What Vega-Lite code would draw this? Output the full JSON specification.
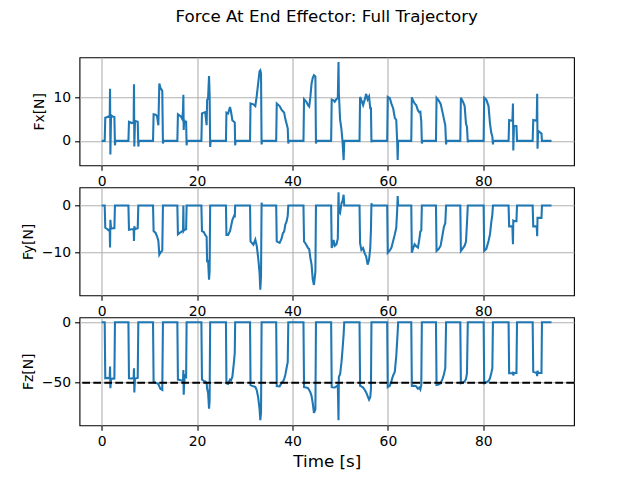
{
  "$schema": "https://vega.github.io/schema/vega-lite/v6.json",
  "autosize": {"type": "none"},
  "padding": {"left": 79.5, "top": 57.3, "right": 63, "bottom": 51.7},
  "background": "white",
  "params": [
    {"name": "width", "value": 494.5},
    {"name": "height", "value": 368}
  ],
  "title": {
    "text": "Force At End Effector: Full Trajectory",
    "font": "DejaVu Sans",
    "fontSize": 16.7,
    "fontWeight": "normal",
    "color": "black",
    "anchor": "middle",
    "frame": "group",
    "baseline": "alphabetic",
    "offset": 18
  },
  "datasets": {
    "force": [
      {"t": 0, "fx": 0, "fy": 0, "fz": 0},
      {"t": 0.63, "fx": 0, "fy": 0, "fz": 0},
      {"t": 0.75, "fx": 5.3, "fy": -4.7, "fz": -46.3},
      {"t": 1.2, "fx": 5.5, "fy": -5.0, "fz": -46.0},
      {"t": 1.4, "fx": 5.6, "fy": -5.2, "fz": -46.2},
      {"t": 1.68, "fx": 5.4, "fy": -5.0, "fz": -46.0},
      {"t": 1.75, "fx": 12.0, "fy": -8.9, "fz": -36.6},
      {"t": 1.82, "fx": -3.1, "fy": -3.0, "fz": -54.5},
      {"t": 1.96, "fx": 5.9, "fy": -4.9, "fz": -46.8},
      {"t": 2.3, "fx": 5.6, "fy": -4.8, "fz": -46.6},
      {"t": 2.66, "fx": 5.5, "fy": -4.8, "fz": -46.5},
      {"t": 2.78, "fx": -1.0, "fy": 0, "fz": 0},
      {"t": 2.88, "fx": 0, "fy": 0, "fz": 0},

      {"t": 5.6, "fx": 0, "fy": 0, "fz": 0},
      {"t": 5.72, "fx": 4.4, "fy": -5.1, "fz": -46.3},
      {"t": 6.3, "fx": 4.1, "fy": -5.0, "fz": -46.5},
      {"t": 6.7, "fx": 4.2, "fy": -5.0, "fz": -46.0},
      {"t": 6.77, "fx": 13.0, "fy": -7.5, "fz": -38.0},
      {"t": 6.84, "fx": -1.3, "fy": -4.4, "fz": -58.0},
      {"t": 6.98, "fx": 4.6, "fy": -5.0, "fz": -46.5},
      {"t": 7.55, "fx": 4.4, "fy": -4.8, "fz": -46.0},
      {"t": 7.68, "fx": -1.3, "fy": 0, "fz": 0},
      {"t": 7.78, "fx": 0, "fy": 0, "fz": 0},

      {"t": 10.76, "fx": 0, "fy": 0, "fz": 0},
      {"t": 10.88, "fx": 6.1, "fy": -5.4, "fz": -49.2},
      {"t": 11.3, "fx": 6.0, "fy": -5.8, "fz": -50.0},
      {"t": 11.6, "fx": 5.7, "fy": -6.5, "fz": -50.5},
      {"t": 11.88, "fx": 3.6, "fy": -7.5, "fz": -51.0},
      {"t": 12.08, "fx": 13.2, "fy": -10.4, "fz": -53.0},
      {"t": 12.3, "fx": 12.2, "fy": -10.0, "fz": -55.0},
      {"t": 12.7, "fx": 11.5, "fy": -9.5, "fz": -56.0},
      {"t": 12.84, "fx": -0.6, "fy": 0, "fz": 0},
      {"t": 12.94, "fx": 0, "fy": 0, "fz": 0},

      {"t": 15.86, "fx": 0, "fy": 0, "fz": 0},
      {"t": 15.98, "fx": 6.1, "fy": -6.1, "fz": -47.4},
      {"t": 16.6, "fx": 5.6, "fy": -5.6, "fz": -48.0},
      {"t": 16.9, "fx": 5.0, "fy": -5.4, "fz": -48.5},
      {"t": 17.05, "fx": 7.0, "fy": -5.3, "fz": -48.0},
      {"t": 17.12, "fx": 10.6, "fy": 0, "fz": -39.4},
      {"t": 17.19, "fx": 2.5, "fy": -5.3, "fz": -60.0},
      {"t": 17.3, "fx": 4.8, "fy": -5.1, "fz": -50.0},
      {"t": 17.45, "fx": 4.4, "fy": -5.1, "fz": -44.0},
      {"t": 17.7, "fx": 4.4, "fy": -5.0, "fz": -45.0},
      {"t": 17.8, "fx": -1.0, "fy": 0, "fz": 0},
      {"t": 17.9, "fx": 0, "fy": 0, "fz": 0},

      {"t": 20.9, "fx": 0, "fy": 0, "fz": 0},
      {"t": 21.02, "fx": 6.3, "fy": -5.4, "fz": -47.4},
      {"t": 21.4, "fx": 6.5, "fy": -5.6, "fz": -48.5},
      {"t": 21.7, "fx": 6.6, "fy": -6.2, "fz": -49.0},
      {"t": 22.0, "fx": 3.6, "fy": -6.6, "fz": -50.0},
      {"t": 22.1, "fx": 9.4, "fy": -12.0, "fz": -55.0},
      {"t": 22.3, "fx": 9.8, "fy": -11.5, "fz": -58.0},
      {"t": 22.5, "fx": 14.9, "fy": -15.7, "fz": -71.5},
      {"t": 22.62, "fx": 11.0, "fy": -14.0, "fz": -65.0},
      {"t": 22.74, "fx": -1.4, "fy": 0, "fz": 0},
      {"t": 22.84, "fx": 0, "fy": 0, "fz": 0},

      {"t": 26.05, "fx": 0, "fy": 0, "fz": 0},
      {"t": 26.15, "fx": 6.5, "fy": -6.2, "fz": -50.4},
      {"t": 26.5, "fx": 6.3, "fy": -6.2, "fz": -51.0},
      {"t": 26.9, "fx": 7.8, "fy": -5.4, "fz": -47.4},
      {"t": 27.1, "fx": 6.8, "fy": -4.5, "fz": -48.0},
      {"t": 27.4, "fx": 4.7, "fy": -3.0, "fz": -45.0},
      {"t": 27.75, "fx": 4.4, "fy": -2.2, "fz": -32.0},
      {"t": 27.9, "fx": 4.2, "fy": -2.5, "fz": -25.0},
      {"t": 27.98, "fx": -1.0, "fy": 0, "fz": 0},
      {"t": 28.08, "fx": 0, "fy": 0, "fz": 0},

      {"t": 31.1, "fx": 0, "fy": 0, "fz": 0},
      {"t": 31.2, "fx": 8.6, "fy": -7.6, "fz": -52.0},
      {"t": 31.8, "fx": 8.4, "fy": -8.3, "fz": -53.0},
      {"t": 32.2, "fx": 8.0, "fy": -7.2, "fz": -53.5},
      {"t": 32.5, "fx": 10.3, "fy": -8.5, "fz": -56.0},
      {"t": 32.8, "fx": 13.2, "fy": -11.0, "fz": -62.0},
      {"t": 33.1, "fx": 16.0, "fy": -14.3, "fz": -72.0},
      {"t": 33.25, "fx": 16.2, "fy": -17.8, "fz": -81.0},
      {"t": 33.4, "fx": 15.5, "fy": -15.0, "fz": -75.0},
      {"t": 33.52, "fx": -0.8, "fy": 0.6, "fz": 0},
      {"t": 33.62, "fx": 0, "fy": 0, "fz": 0},

      {"t": 36.58, "fx": 0, "fy": 0, "fz": 0},
      {"t": 36.7, "fx": 8.6, "fy": -7.6, "fz": -52.7},
      {"t": 37.3, "fx": 8.0, "fy": -7.9, "fz": -53.0},
      {"t": 37.7, "fx": 7.2, "fy": -7.0, "fz": -50.4},
      {"t": 38.0, "fx": 6.8, "fy": -5.8, "fz": -49.0},
      {"t": 38.25, "fx": 6.5, "fy": -5.5, "fz": -47.0},
      {"t": 38.5, "fx": 5.0, "fy": -4.0, "fz": -43.4},
      {"t": 38.75, "fx": 4.0, "fy": -3.4, "fz": -38.0},
      {"t": 39.0, "fx": 2.9, "fy": -2.2, "fz": -33.0},
      {"t": 39.12, "fx": -0.6, "fy": 0, "fz": 0},
      {"t": 39.22, "fx": 0, "fy": 0, "fz": 0},

      {"t": 42.3, "fx": 0, "fy": 0, "fz": 0},
      {"t": 42.42, "fx": 9.6, "fy": -7.6, "fz": -53.7},
      {"t": 42.9, "fx": 9.0, "fy": -8.3, "fz": -54.0},
      {"t": 43.25, "fx": 8.2, "fy": -9.0, "fz": -54.5},
      {"t": 43.5, "fx": 7.9, "fy": -9.2, "fz": -56.0},
      {"t": 43.75, "fx": 10.1, "fy": -11.1, "fz": -58.0},
      {"t": 44.0, "fx": 13.2, "fy": -12.5, "fz": -61.0},
      {"t": 44.25, "fx": 14.5, "fy": -15.7, "fz": -67.0},
      {"t": 44.5, "fx": 15.1, "fy": -16.8, "fz": -75.0},
      {"t": 44.8, "fx": 14.8, "fy": -14.0, "fz": -72.0},
      {"t": 44.92, "fx": -0.6, "fy": 0, "fz": 0},
      {"t": 45.02, "fx": 0, "fy": 0, "fz": 0},

      {"t": 48.1, "fx": 0, "fy": 0, "fz": 0},
      {"t": 48.22, "fx": 9.5, "fy": -9.0, "fz": -53.7},
      {"t": 48.6, "fx": 9.3, "fy": -7.3, "fz": -54.0},
      {"t": 48.85, "fx": 9.0, "fy": -8.5, "fz": -54.0},
      {"t": 49.2, "fx": 9.6, "fy": -8.2, "fz": -53.0},
      {"t": 49.5, "fx": 9.8, "fy": -7.0, "fz": -52.0},
      {"t": 49.65, "fx": 18.1, "fy": 2.8, "fz": -81.0},
      {"t": 49.72, "fx": 10.9, "fy": -1.0, "fz": -45.0},
      {"t": 49.98, "fx": 4.9, "fy": -1.5, "fz": -43.0},
      {"t": 50.27, "fx": 2.6, "fy": 0.5, "fz": -33.0},
      {"t": 50.5, "fx": -0.3, "fy": 1.0, "fz": -22.0},
      {"t": 50.72, "fx": -4.4, "fy": 2.3, "fz": -10.0},
      {"t": 50.85, "fx": 0, "fy": 0, "fz": 0},

      {"t": 54.05, "fx": 0, "fy": 0, "fz": 0},
      {"t": 54.17, "fx": 10.1, "fy": -8.0, "fz": -52.6},
      {"t": 54.45, "fx": 9.3, "fy": -9.4, "fz": -53.0},
      {"t": 54.8, "fx": 8.2, "fy": -9.0, "fz": -54.0},
      {"t": 55.1, "fx": 9.3, "fy": -10.0, "fz": -55.6},
      {"t": 55.45, "fx": 10.8, "fy": -10.8, "fz": -58.0},
      {"t": 55.75, "fx": 9.5, "fy": -12.5, "fz": -61.0},
      {"t": 56.05, "fx": 10.2, "fy": -11.5, "fz": -64.0},
      {"t": 56.3, "fx": 7.5, "fy": -9.0, "fz": -62.0},
      {"t": 56.45, "fx": 7.5, "fy": -5.0, "fz": -55.0},
      {"t": 56.55, "fx": -0.3, "fy": 0.5, "fz": 0},
      {"t": 56.65, "fx": 0, "fy": 0, "fz": 0},

      {"t": 59.85, "fx": 0, "fy": 0, "fz": 0},
      {"t": 59.97, "fx": 10.1, "fy": -10.0, "fz": -53.7},
      {"t": 60.4, "fx": 9.8, "fy": -9.5, "fz": -52.6},
      {"t": 60.75, "fx": 8.5, "fy": -8.9, "fz": -48.5},
      {"t": 61.1, "fx": 7.5, "fy": -7.5, "fz": -44.0},
      {"t": 61.45, "fx": 5.3, "fy": -6.1, "fz": -41.0},
      {"t": 61.75, "fx": 4.8, "fy": -4.7, "fz": -28.0},
      {"t": 61.95, "fx": -0.3, "fy": -1.0, "fz": -15.0},
      {"t": 62.05, "fx": -4.4, "fy": 2.0, "fz": -8.0},
      {"t": 62.15, "fx": 0, "fy": 0, "fz": 0},

      {"t": 64.9, "fx": 0, "fy": 0, "fz": 0},
      {"t": 65.02, "fx": 10.0, "fy": -10.0, "fz": -52.6},
      {"t": 65.3, "fx": 9.2, "fy": -9.0, "fz": -52.6},
      {"t": 65.6, "fx": 8.6, "fy": -8.2, "fz": -52.6},
      {"t": 65.95, "fx": 8.2, "fy": -8.6, "fz": -53.0},
      {"t": 66.3, "fx": 7.0, "fy": -8.9, "fz": -55.0},
      {"t": 66.58, "fx": 6.6, "fy": -7.2, "fz": -54.0},
      {"t": 66.8, "fx": 6.7, "fy": -5.5, "fz": -55.6},
      {"t": 67.0, "fx": 4.4, "fy": -5.3, "fz": -52.0},
      {"t": 67.12, "fx": -0.6, "fy": 0, "fz": 0},
      {"t": 67.22, "fx": 0, "fy": 0, "fz": 0},

      {"t": 70.08, "fx": 0, "fy": 0, "fz": 0},
      {"t": 70.2, "fx": 9.9, "fy": -9.6, "fz": -51.8},
      {"t": 70.64, "fx": 9.3, "fy": -9.2, "fz": -51.5},
      {"t": 71.06, "fx": 8.5, "fy": -8.5, "fz": -50.4},
      {"t": 71.47, "fx": 6.5, "fy": -6.1, "fz": -46.6},
      {"t": 71.75, "fx": 5.0, "fy": -4.5, "fz": -43.0},
      {"t": 72.03, "fx": 3.6, "fy": -3.7, "fz": -38.0},
      {"t": 72.2, "fx": -0.8, "fy": 0, "fz": 0},
      {"t": 72.3, "fx": 0, "fy": 0, "fz": 0},

      {"t": 75.18, "fx": 0, "fy": 0, "fz": 0},
      {"t": 75.3, "fx": 9.9, "fy": -9.6, "fz": -50.4},
      {"t": 75.74, "fx": 9.0, "fy": -9.0, "fz": -49.6},
      {"t": 76.09, "fx": 8.0, "fy": -8.5, "fz": -49.0},
      {"t": 76.37, "fx": 4.0, "fy": -7.6, "fz": -46.8},
      {"t": 76.58, "fx": 3.2, "fy": -3.7, "fz": -42.0},
      {"t": 76.75, "fx": -0.3, "fy": 0, "fz": 0},
      {"t": 76.85, "fx": 0, "fy": 0, "fz": 0},

      {"t": 80.07, "fx": 0, "fy": 0, "fz": 0},
      {"t": 80.19, "fx": 9.9, "fy": -9.6, "fz": -50.4},
      {"t": 80.63, "fx": 9.5, "fy": -9.2, "fz": -49.6},
      {"t": 81.1, "fx": 8.0, "fy": -7.5, "fz": -48.5},
      {"t": 81.4, "fx": 4.0, "fy": -6.1, "fz": -46.3},
      {"t": 81.68, "fx": 1.8, "fy": -3.5, "fz": -42.0},
      {"t": 81.9, "fx": 1.0, "fy": -1.9, "fz": -38.0},
      {"t": 82.02, "fx": -0.8, "fy": 0, "fz": 0},
      {"t": 82.12, "fx": 0, "fy": 0, "fz": 0},

      {"t": 85.3, "fx": 0, "fy": 0, "fz": 0},
      {"t": 85.42, "fx": 4.8, "fy": -4.4, "fz": -42.2},
      {"t": 86.1, "fx": 4.6, "fy": -4.4, "fz": -42.2},
      {"t": 86.22, "fx": 8.6, "fy": -8.2, "fz": -41.0},
      {"t": 86.29, "fx": -2.2, "fy": -3.2, "fz": -44.0},
      {"t": 86.43, "fx": 3.6, "fy": -3.3, "fz": -42.0},
      {"t": 86.95, "fx": 3.4, "fy": -3.3, "fz": -42.0},
      {"t": 87.07, "fx": 0, "fy": 0, "fz": 0},

      {"t": 90.35, "fx": 0, "fy": 0, "fz": 0},
      {"t": 90.47, "fx": 4.8, "fy": -4.4, "fz": -41.0},
      {"t": 91.2, "fx": 4.6, "fy": -4.4, "fz": -42.0},
      {"t": 91.3, "fx": 10.8, "fy": -6.5, "fz": -44.6},
      {"t": 91.37, "fx": -1.8, "fy": -2.6, "fz": -40.0},
      {"t": 91.5, "fx": 2.3, "fy": -2.6, "fz": -42.0},
      {"t": 92.2, "fx": 1.7, "fy": -2.6, "fz": -42.0},
      {"t": 92.3, "fx": 0, "fy": 0, "fz": 0},
      {"t": 94.3, "fx": 0, "fy": 0, "fz": 0}
    ],
    "target": [
      {"fz_ref": -50}
    ]
  },
  "spacing": 22,
  "bounds": "flush",
  "config": {
    "view": {"stroke": "black", "strokeWidth": 1.1, "fill": "white"},
    "axis": {
      "labelFont": "DejaVu Sans",
      "labelFontSize": 13.9,
      "labelColor": "black",
      "titleFont": "DejaVu Sans",
      "titleFontWeight": "normal",
      "titleColor": "black",
      "titleFontSize": 13.9,
      "tickColor": "black",
      "tickSize": 4.9,
      "tickWidth": 1.1,
      "labelPadding": 4,
      "gridColor": "#b0b0b0",
      "gridWidth": 1.1,
      "gridOpacity": 1,
      "domain": false,
      "labelFlush": false,
      "labelOverlap": false
    }
  },
  "vconcat": [
    {
      "width": 494.5,
      "height": 108,
      "data": {"name": "force"},
      "mark": {"type": "line", "color": "#1f77b4", "strokeWidth": 2.08, "clip": true},
      "encoding": {
        "x": {
          "field": "t", "type": "quantitative",
          "scale": {"domain": [-4.654, 99.016], "nice": false, "zero": false},
          "axis": {"values": [0, 20, 40, 60, 80], "format": "d", "title": null}
        },
        "y": {
          "field": "fx", "type": "quantitative",
          "scale": {"domain": [-5.6, 19.2], "nice": false, "zero": false},
          "axis": {"values": [0, 10], "format": "d", "title": "Fx[N]", "titlePadding": 6}
        }
      }
    },
    {
      "width": 494.5,
      "height": 108,
      "data": {"name": "force"},
      "mark": {"type": "line", "color": "#1f77b4", "strokeWidth": 2.08, "clip": true},
      "encoding": {
        "x": {
          "field": "t", "type": "quantitative",
          "scale": {"domain": [-4.654, 99.016], "nice": false, "zero": false},
          "axis": {"values": [0, 20, 40, 60, 80], "format": "d", "title": null}
        },
        "y": {
          "field": "fy", "type": "quantitative",
          "scale": {"domain": [-19.0, 3.87], "nice": false, "zero": false},
          "axis": {"values": [0, -10], "format": "d", "title": "Fy[N]", "titlePadding": 6}
        }
      }
    },
    {
      "width": 494.5,
      "height": 108,
      "layer": [
        {
          "data": {"name": "force"},
          "mark": {"type": "line", "color": "#1f77b4", "strokeWidth": 2.08, "clip": true},
          "encoding": {
            "x": {
              "field": "t", "type": "quantitative",
              "scale": {"domain": [-4.654, 99.016], "nice": false, "zero": false},
              "axis": {"values": [0, 20, 40, 60, 80], "format": "d", "title": "Time [s]", "titleFontSize": 16.7, "titlePadding": 5}
            },
            "y": {
              "field": "fz", "type": "quantitative",
              "scale": {"domain": [-85.2, 4.1], "nice": false, "zero": false},
              "axis": {"values": [0, -50], "format": "d", "title": "Fz[N]", "titlePadding": 6}
            }
          }
        },
        {
          "data": {"name": "target"},
          "mark": {"type": "rule", "color": "black", "strokeWidth": 2.08, "strokeDash": [7.7, 3.3]},
          "encoding": {"y": {"field": "fz_ref", "type": "quantitative"}}
        }
      ]
    }
  ]
}
